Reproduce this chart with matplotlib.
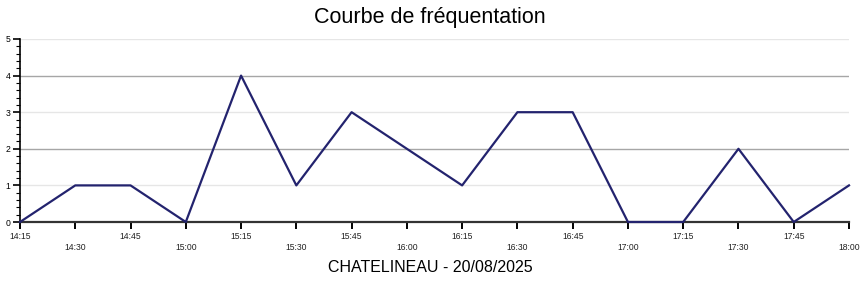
import matplotlib.pyplot as plt
from matplotlib.ticker import MultipleLocator

times = ["14:15", "14:30", "14:45", "15:00", "15:15", "15:30", "15:45", "16:00",
         "16:15", "16:30", "16:45", "17:00", "17:15", "17:30", "17:45", "18:00"]
visitors = [0, 1, 1, 0, 4, 1, 3, 2, 1, 3, 3, 0, 0, 2, 0, 1]

plt.rcParams['font.family'] = ['Liberation Sans', 'DejaVu Sans']

fig = plt.figure(figsize=(8.6, 2.84), dpi=100)
ax = fig.add_axes([20 / 860, 1 - 222 / 284, 829 / 860, 183 / 284])

x = list(range(len(times)))
ax.plot(x, visitors, color="#23236e", linewidth=1.6, zorder=3, clip_on=False)

ax.set_xlim(0, len(times) - 1)
ax.set_ylim(0, 5)

# gridlines: light on every integer, darker on 2 and 4
for v in range(1, 6):
    col = "#a6a6a6" if v in (2, 4) else "#e6e6e6"
    ax.axhline(v, color=col, linewidth=1, zorder=1)

ax.set_xticks(x)
ax.set_xticklabels(times, fontsize=6.2, color="#222222")
for i, t in enumerate(ax.xaxis.get_major_ticks()):
    if i % 2 == 1:
        t.set_pad(10)
    else:
        t.set_pad(2.5)
ax.set_yticks(range(0, 6))
ax.yaxis.set_minor_locator(MultipleLocator(0.2))
ax.tick_params(axis="y", which="major", labelsize=6.2, length=5, width=1.2, pad=2)
ax.tick_params(axis="y", which="minor", length=3, width=0.8)
ax.tick_params(axis="x", which="major", length=5, width=1.4)

for s in ["top", "right"]:
    ax.spines[s].set_visible(False)
ax.spines["left"].set_linewidth(1.2)
ax.spines["bottom"].set_linewidth(1.6)
ax.spines["bottom"].set_color("#333333")

fig.text(0.5, 1 - 17.5 / 284, "Courbe de fréquentation", ha="center", va="center", fontsize=15.5)
fig.text(0.5, 1 - 267 / 284, "CHATELINEAU - 20/08/2025", ha="center", va="center", fontsize=11.5)

fig.savefig("out.png", dpi=100)
